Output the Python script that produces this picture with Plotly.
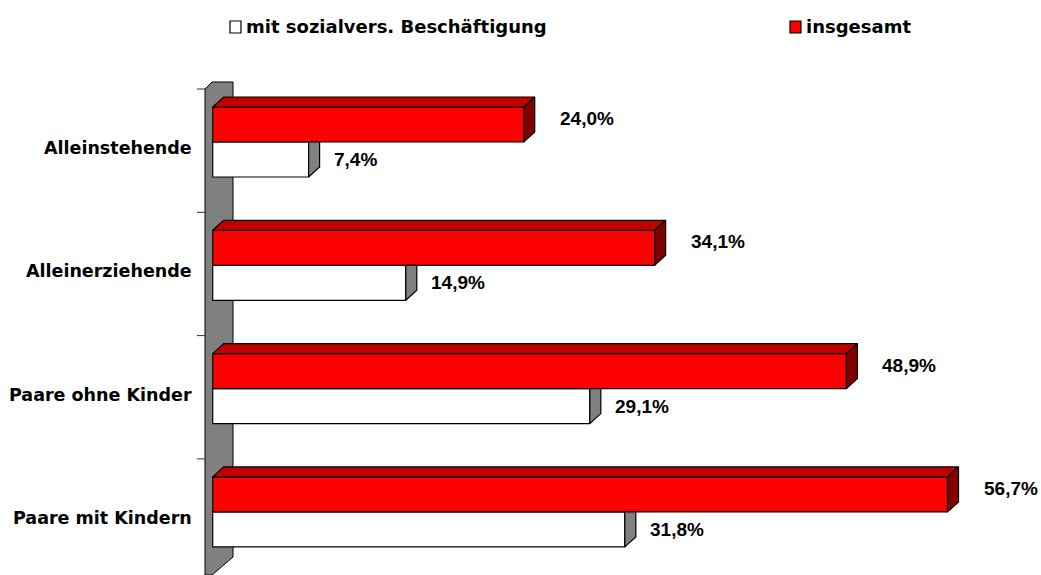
import plotly.graph_objects as go

# ---------------- data ----------------
categories = ["Alleinstehende", "Alleinerziehende", "Paare ohne Kinder", "Paare mit Kindern"]
insgesamt = [24.0, 34.1, 48.9, 56.7]
mit_sv = [7.4, 14.9, 29.1, 31.8]
series_names = ["mit sozialvers. Beschäftigung", "insgesamt"]

# ---------------- layout constants ----------------
W, H = 1041, 575
ML, MR, MT, MB = 190, 10, 60, 0
X0PX = 212.7      # pixel column of 0 %
XSCALE = 12.96    # pixels per percent
Y0PX = 142.0      # pixel row of first category's bar boundary
YSCALE = 123.3    # pixels per category

RED = "#FF0000"
RED_TOP = "#C00000"
RED_SIDE = "#800000"
GREY = "#808080"
FONT_LBL = "DejaVu Sans"
FONT_VAL = "Liberation Sans, Arial"


def xd(px):
    return (px - X0PX) / XSCALE


def yd(px):
    return (px - Y0PX) / YSCALE


def xp(px):
    return (px - ML) / (W - ML - MR)


def yp(px):
    return (H - MB - px) / (H - MT - MB)


bar_h = 35 / YSCALE
dx = 11 / XSCALE
dy = 10 / YSCALE
pos = list(range(len(categories)))

fig = go.Figure()

# front faces
fig.add_trace(go.Bar(
    orientation="h", x=mit_sv, y=[i + bar_h / 2 for i in pos], width=bar_h,
    marker=dict(color="white", line=dict(color="black", width=1.2)),
    name=series_names[0], showlegend=False, hoverinfo="skip"))
fig.add_trace(go.Bar(
    orientation="h", x=insgesamt, y=[i - bar_h / 2 for i in pos], width=bar_h,
    marker=dict(color=RED, line=dict(color="black", width=1.2)),
    name=series_names[1], showlegend=False, hoverinfo="skip"))


def poly_trace(xs, ys, fill):
    return go.Scatter(x=xs, y=ys, mode="lines", fill="toself", fillcolor=fill,
                      line=dict(color="black", width=1.2), showlegend=False,
                      hoverinfo="skip")


# 3D faces of the red bars
tx, ty, sx, sy = [], [], [], []
for i, v in zip(pos, insgesamt):
    top = i - bar_h
    tx += [0, v, v + dx, dx, 0, None]
    ty += [top, top, top - dy, top - dy, top, None]
    sx += [v, v + dx, v + dx, v, v, None]
    sy += [top, top - dy, i - dy, i, top, None]
fig.add_trace(poly_trace(tx, ty, RED_TOP))
fig.add_trace(poly_trace(sx, sy, RED_SIDE))

# visible side faces of the white bars
wx, wy = [], []
for i, v in zip(pos, mit_sv):
    wx += [v, v + dx, v + dx, v, v, None]
    wy += [i, i, i + bar_h - dy, i + bar_h, i, None]
fig.add_trace(poly_trace(wx, wy, GREY))

# side wall
wall = [(205, 89), (212, 82), (233, 82), (233, 557), (212, 575), (205, 575)]
path = "M " + " L ".join(f"{xd(a):.4f},{yd(b):.4f}" for a, b in wall) + " Z"
shapes = [dict(type="path", path=path, xref="x", yref="y", layer="below",
               fillcolor=GREY, line=dict(color="black", width=1))]
# category separator ticks
for i in range(len(categories)):
    ty_px = Y0PX - 53 + i * YSCALE
    shapes.append(dict(type="line", xref="x", yref="y", x0=xd(197), x1=xd(205),
                       y0=yd(ty_px), y1=yd(ty_px), line=dict(color="#333333", width=1)))

annotations = []
# category labels
for i, c in zip(pos, categories):
    annotations.append(dict(x=xd(194), y=i + 6 / YSCALE, xref="x", yref="y", text=c,
                            showarrow=False, xanchor="right", yanchor="middle",
                            font=dict(family=FONT_LBL, size=17.5, color="black", weight="bold")))
# value labels
for i, v in zip(pos, insgesamt):
    annotations.append(dict(x=v + 34 / XSCALE, y=i - bar_h / 2 - 6 / YSCALE, xref="x", yref="y",
                            text=f"{v:.1f}%".replace(".", ","), showarrow=False,
                            xanchor="left", yanchor="middle",
                            font=dict(family=FONT_VAL, size=19, color="black", weight="bold")))
for i, v in zip(pos, mit_sv):
    annotations.append(dict(x=v + 23 / XSCALE, y=i + bar_h / 2, xref="x", yref="y",
                            text=f"{v:.1f}%".replace(".", ","), showarrow=False,
                            xanchor="left", yanchor="middle",
                            font=dict(family=FONT_VAL, size=19, color="black", weight="bold")))

# manual legend
legend_items = [(230, "white", series_names[0]), (790, RED, series_names[1])]
for x_px, col, name in legend_items:
    shapes.append(dict(type="rect", xref="paper", yref="paper",
                       x0=xp(x_px), x1=xp(x_px + 11), y0=yp(33), y1=yp(21),
                       fillcolor=col, line=dict(color="black", width=1.2)))
    annotations.append(dict(x=xp(x_px + 14), y=yp(27), xref="paper", yref="paper",
                            text=name, showarrow=False, xanchor="left", yanchor="middle",
                            font=dict(family=FONT_LBL, size=18, color="black", weight="bold")))

fig.update_layout(
    width=W, height=H,
    margin=dict(l=ML, r=MR, t=MT, b=MB, pad=0),
    paper_bgcolor="white", plot_bgcolor="rgba(0,0,0,0)",
    barmode="overlay", showlegend=False,
    xaxis=dict(range=[xd(ML), xd(W - MR)], visible=False, fixedrange=True),
    yaxis=dict(range=[yd(H - MB), yd(MT)], visible=False, fixedrange=True),
    shapes=shapes, annotations=annotations,
)

fig.write_html("out.html", config={"displayModeBar": False},
               post_script="document.body.style.margin='0';document.body.style.overflow='hidden';")
